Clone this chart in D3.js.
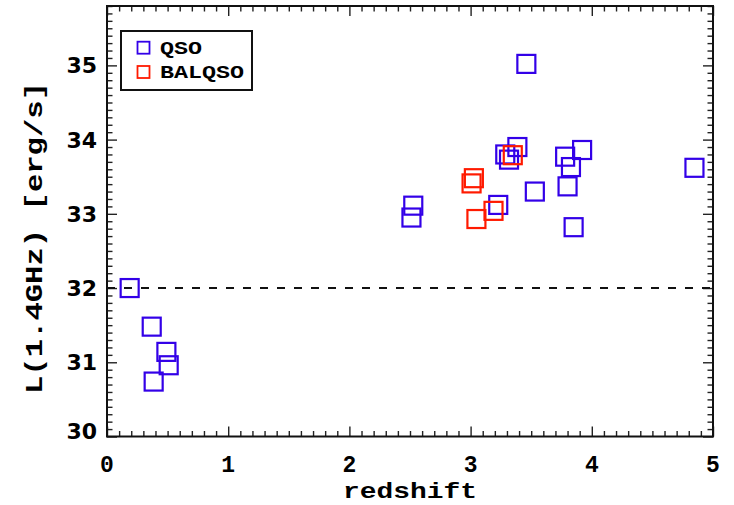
<!DOCTYPE html>
<html>
<head>
<meta charset="utf-8">
<script src="https://cdn.jsdelivr.net/npm/d3@7"></script>
<style>
  body { margin: 0; background: #fff; }
  svg { display: block; }
</style>
</head>
<body>
<div id="chart"></div>
<script>
// data
const qsoZ = [0.187, 0.369, 0.490, 0.509, 0.385, 2.527, 2.512, 3.228, 3.53, 3.386,
              3.286, 3.317, 3.46, 3.78, 3.92, 3.828, 3.80, 3.85, 4.847];
const qsoL = [32.00, 31.48, 31.14, 30.96, 30.74, 33.11, 32.95, 33.12, 33.30, 33.90,
              33.80, 33.73, 35.02, 33.77, 33.86, 33.63, 33.37, 32.82, 33.62];
const balZ = [3.027, 3.008, 3.348, 3.189, 3.048];
const balL = [33.48, 33.41, 33.79, 33.04, 32.93];
const xTicks = [0, 1, 2, 3, 4, 5];
const yTicks = [30, 31, 32, 33, 34, 35];
const threshold = 32;

// dimensions
const w = 734, h = 505;
const padLeft = 107, padRight = 713, padTop = 6, padBot = 436.5;

const blue = "#3300e8";
const red = "#ff1a00";

const svg = d3.select("#chart").append("svg")
  .attr("width", w)
  .attr("height", h);

const x = d3.scaleLinear().domain([0, 5]).range([padLeft, padRight]);
const y = d3.scaleLinear().domain([30, 35.8]).range([padBot, padTop]);

// minor ticks every 0.1
const xMinor = d3.range(0, 50.5).map(i => i / 10).filter(v => !xTicks.includes(v));
const yMinor = d3.range(300, 358.5).map(i => i / 10).filter(v => !yTicks.includes(v));

function tickAxis(axisFn, scale, values, size, tx, ty) {
  const g = svg.append("g")
    .attr("transform", `translate(${tx},${ty})`)
    .call(axisFn(scale).tickValues(values).tickSize(-size).tickFormat(""));
  g.select(".domain").remove();
  g.selectAll("line").attr("stroke", "#222").attr("stroke-width", 1.4);
  return g;
}
// ticks on all four sides, pointing inward
tickAxis(d3.axisBottom, x, xTicks, 10, 0, padBot);
tickAxis(d3.axisBottom, x, xMinor, 5.5, 0, padBot);
tickAxis(d3.axisTop, x, xTicks, 10, 0, padTop);
tickAxis(d3.axisTop, x, xMinor, 5.5, 0, padTop);
tickAxis(d3.axisLeft, y, yTicks, 10, padLeft, 0);
tickAxis(d3.axisLeft, y, yMinor, 5.5, padLeft, 0);
tickAxis(d3.axisRight, y, yTicks, 10, padRight, 0);
tickAxis(d3.axisRight, y, yMinor, 5.5, padRight, 0);

// tick labels
svg.append("g").selectAll("text")
  .data(xTicks)
  .enter()
  .append("text")
  .attr("x", d => x(d))
  .attr("y", 472)
  .attr("text-anchor", "middle")
  .style("font-family", "'Liberation Mono', monospace")
  .style("font-weight", "bold")
  .style("font-size", "23px")
  .text(d => d);
svg.append("g").selectAll("text")
  .data(yTicks)
  .enter()
  .append("text")
  .attr("x", 97)
  // lowest label sits a little above its tick, as in the original
  .attr("y", d => y(d) + 8 - (d === 30 ? 6 : 0))
  .attr("text-anchor", "end")
  .style("font-family", "'DejaVu Sans', sans-serif")
  .style("font-weight", "bold")
  .style("font-size", "22px")
  .text(d => d);

// axis titles
svg.append("text")
  .text("redshift")
  .attr("x", x(2.5))
  .attr("y", 498)
  .attr("text-anchor", "middle")
  .attr("textLength", 134)
  .attr("lengthAdjust", "spacingAndGlyphs")
  .style("font-family", "'Liberation Mono', monospace")
  .style("font-weight", "bold")
  .style("font-size", "22px");
svg.append("text")
  .text("L(1.4GHz) [erg/s]")
  .attr("transform", "translate(42,238) rotate(-90)")
  .attr("text-anchor", "middle")
  .attr("textLength", 312)
  .attr("lengthAdjust", "spacingAndGlyphs")
  .style("font-family", "'Liberation Mono', monospace")
  .style("font-weight", "bold")
  .style("font-size", "23px");

// dashed threshold line
svg.append("line")
  .attr("x1", x(0))
  .attr("x2", x(5))
  .attr("y1", y(threshold))
  .attr("y2", y(threshold))
  .attr("stroke", "#111")
  .attr("stroke-width", 2)
  .attr("stroke-dasharray", "8,9");

// markers
const sq = 18;
function drawSquares(zs, ls, color) {
  svg.append("g").selectAll("rect")
    .data(zs.map((z, i) => ({ z: z, l: ls[i] })))
    .enter()
    .append("rect")
    .attr("x", d => x(d.z) - sq / 2)
    .attr("y", d => y(d.l) - sq / 2)
    .attr("width", sq)
    .attr("height", sq)
    .attr("fill", "none")
    .attr("stroke", color)
    .attr("stroke-width", 2.2);
}
drawSquares(qsoZ, qsoL, blue);
drawSquares(balZ, balL, red);

// frame
svg.append("rect")
  .attr("x", padLeft)
  .attr("y", padTop)
  .attr("width", padRight - padLeft)
  .attr("height", padBot - padTop)
  .attr("fill", "none")
  .attr("stroke", "#111")
  .attr("stroke-width", 2);

// legend
const legend = svg.append("g");
legend.append("rect")
  .attr("x", 121).attr("y", 31)
  .attr("width", 131).attr("height", 59)
  .attr("fill", "#fff")
  .attr("stroke", "#111")
  .attr("stroke-width", 2);
const legendItems = [
  { label: "QSO", color: blue, cy: 47.7, len: 42 },
  { label: "BALQSO", color: red, cy: 72, len: 84 }
];
legendItems.forEach(it => {
  legend.append("rect")
    .attr("x", 137.5).attr("y", it.cy - 6)
    .attr("width", 12).attr("height", 12)
    .attr("fill", "none")
    .attr("stroke", it.color)
    .attr("stroke-width", 1.8);
  legend.append("text")
    .text(it.label)
    .attr("x", 160)
    .attr("y", it.cy + 6)
    .attr("textLength", it.len)
    .attr("lengthAdjust", "spacingAndGlyphs")
    .style("font-family", "'Liberation Mono', monospace")
    .style("font-weight", "bold")
    .style("font-size", "18px");
});
</script>
</body>
</html>
